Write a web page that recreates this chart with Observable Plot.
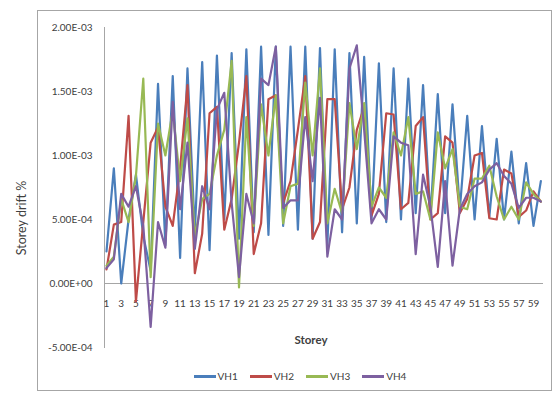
<!DOCTYPE html>
<html>
<head>
<meta charset="utf-8">
<script src="https://cdn.jsdelivr.net/npm/d3@7"></script>
<script src="https://cdn.jsdelivr.net/npm/@observablehq/plot@0.6"></script>
<style>
  html, body { margin: 0; padding: 0; background: #fff; }
  #wrap { position: relative; width: 558px; height: 397px; background: #fff; font-family: Lato, "Open Sans", sans-serif; color: #404040; overflow: hidden; }
  #border { position: absolute; left: 37px; top: 10px; width: 515px; height: 381px; border: 1px solid #a6a6a6; box-sizing: border-box; }
  #chart { position: absolute; left: 0; top: 0; }
  #ytitle { position: absolute; left: 21px; top: 218px; transform: translate(-50%, -50%) rotate(-90deg); white-space: nowrap; font-size: 12.5px; }
  #legend { position: absolute; left: 0; width: 600px; top: 370px; display: flex; justify-content: center; gap: 12px; font-size: 10px; }
  .item { display: flex; align-items: center; gap: 2px; }
  .sw { width: 22px; height: 3px; }
</style>
</head>
<body>
<div id="wrap">
  <div id="border"></div>
  <div id="chart"></div>
  <div id="ytitle">Storey drift %</div>
  <div id="legend"></div>
</div>
<script>
const storeys = [1,2,3,4,5,6,7,8,9,10,11,12,13,14,15,16,17,18,19,20,21,22,23,24,25,26,27,28,29,30,31,32,33,34,35,36,37,38,39,40,41,42,43,44,45,46,47,48,49,50,51,52,53,54,55,56,57,58,59,60];
const xTickLabels = [1,3,5,7,9,11,13,15,17,19,21,23,25,27,29,31,33,35,37,39,41,43,45,47,49,51,53,55,57,59];
const yTicks = [-5e-4, 0, 5e-4, 1e-3, 1.5e-3, 2e-3];
const seriesNames = ["VH1", "VH2", "VH3", "VH4"];
const seriesColors = ["#4A7EBB", "#BE4B48", "#98B954", "#7D60A0"];

const VH1 = [2.5e-4,9.0e-4,0.0,5.0e-4,8.5e-4,3.7e-4,1.0e-4,1.56e-3,3.0e-4,1.62e-3,
             2.0e-4,1.68e-3,4.0e-4,1.73e-3,2.6e-4,1.78e-3,5.0e-4,1.80e-3,3.5e-4,1.83e-3,
             4.0e-4,1.85e-3,3.8e-4,1.85e-3,4.5e-4,1.85e-3,4.2e-4,1.85e-3,3.5e-4,1.84e-3,
             3.0e-4,1.83e-3,4.0e-4,1.80e-3,4.7e-4,1.77e-3,5.0e-4,1.72e-3,4.8e-4,1.68e-3,
             5.0e-4,1.60e-3,5.5e-4,1.55e-3,5.2e-4,1.48e-3,5.5e-4,1.40e-3,5.8e-4,1.31e-3,
             5.0e-4,1.23e-3,5.2e-4,1.13e-3,5.0e-4,1.03e-3,4.7e-4,9.4e-4,4.5e-4,8.0e-4];
const VH2 = [1.1e-4,4.6e-4,4.8e-4,1.31e-3,-1.4e-4,4.8e-4,1.10e-3,1.22e-3,6.0e-4,4.5e-4,
             9.0e-4,1.55e-3,8.0e-5,3.9e-4,1.33e-3,1.38e-3,4.2e-4,6.6e-4,1.10e-3,1.62e-3,
             2.3e-4,4.7e-4,1.44e-3,1.47e-3,6.3e-4,8.0e-4,1.20e-3,1.62e-3,3.5e-4,4.8e-4,
             1.44e-3,1.44e-3,5.8e-4,7.5e-4,1.20e-3,1.38e-3,5.3e-4,7.0e-4,1.33e-3,1.32e-3,
             5.8e-4,6.3e-4,1.23e-3,1.30e-3,5.0e-4,5.5e-4,1.15e-3,1.10e-3,5.5e-4,6.6e-4,
             1.00e-3,1.02e-3,5.1e-4,5.0e-4,8.9e-4,8.6e-4,5.2e-4,5.7e-4,7.2e-4,6.4e-4];
const VH3 = [1.4e-4,2.1e-4,6.6e-4,4.8e-4,8.4e-4,1.60e-3,5.0e-5,1.25e-3,1.00e-3,1.35e-3,
             8.0e-4,1.29e-3,3.7e-4,6.6e-4,7.0e-4,1.00e-3,1.20e-3,1.74e-3,-3.0e-5,1.30e-3,
             4.5e-4,1.40e-3,1.00e-3,1.47e-3,4.7e-4,7.6e-4,7.8e-4,1.57e-3,1.00e-3,1.68e-3,
             4.7e-4,7.4e-4,5.5e-4,1.41e-3,1.05e-3,1.41e-3,6.0e-4,7.5e-4,6.7e-4,1.18e-3,
             1.00e-3,1.30e-3,7.0e-4,7.2e-4,5.0e-4,1.18e-3,9.0e-4,1.05e-3,6.0e-4,5.8e-4,
             8.2e-4,8.2e-4,9.2e-4,6.8e-4,5.0e-4,6.0e-4,5.0e-4,7.9e-4,7.0e-4,6.4e-4];
const VH4 = [1.2e-4,1.9e-4,7.0e-4,6.0e-4,7.6e-4,4.5e-4,-3.4e-4,4.8e-4,2.8e-4,1.42e-3,
             5.8e-4,1.10e-3,2.7e-4,7.6e-4,5.8e-4,1.36e-3,1.49e-3,6.3e-4,5.0e-5,7.0e-4,
             4.7e-4,1.60e-3,1.55e-3,1.85e-3,5.9e-4,6.5e-4,6.5e-4,1.30e-3,8.0e-4,1.45e-3,
             2.1e-4,5.8e-4,5.0e-4,1.68e-3,1.86e-3,1.20e-3,4.7e-4,5.8e-4,5.0e-4,1.15e-3,
             1.10e-3,1.08e-3,2.3e-4,8.5e-4,6.0e-4,1.3e-4,8.0e-4,1.4e-4,5.8e-4,7.0e-4,
             7.6e-4,7.9e-4,8.9e-4,9.4e-4,8.4e-4,7.8e-4,5.9e-4,6.7e-4,6.7e-4,6.4e-4];
const seriesValues = [VH1, VH2, VH3, VH4];

function sci(d) {
  if (d === 0) return "0.00E+00";
  const [m, e] = d.toExponential(2).split("e");
  const n = +e;
  return m + "E" + (n < 0 ? "-" : "+") + String(Math.abs(n)).padStart(2, "0");
}

const lineMarks = seriesValues.map((vals, k) =>
  Plot.line(storeys.map((s, i) => ({storey: s, value: vals[i]})), {
    x: "storey", y: "value", stroke: seriesColors[k], strokeWidth: 2.2,
    strokeLinejoin: "round", strokeLinecap: "round"
  })
);

const chart = Plot.plot({
  width: 558,
  height: 360,
  marginLeft: 104,
  marginRight: 15,
  marginTop: 27,
  marginBottom: 13,
  style: {fontFamily: "Lato, 'Open Sans', sans-serif", fontSize: "10px", color: "#404040", background: "transparent"},
  x: {type: "linear", domain: [0.73, 60.36], axis: null},
  y: {domain: [-5e-4, 2e-3], axis: null},
  marks: [
    Plot.frame({anchor: "left", stroke: "#a6a6a6"}),
    Plot.ruleY([0], {stroke: "#a6a6a6"}),
    Plot.axisY({ticks: yTicks, tickFormat: sci, tickSize: 0, tickPadding: 12, label: null}),
    Plot.text(xTickLabels, {x: d => d, y: () => 0, dy: 20, text: d => String(d), fill: "#404040"}),
    ...lineMarks,
    Plot.text(["Storey"], {frameAnchor: "bottom", dy: -4, dx: -13, fontWeight: "bold", fontSize: 11.5, fill: "#404040"})
  ]
});
document.getElementById("chart").appendChild(chart);

const legend = document.getElementById("legend");
seriesNames.forEach((name, k) => {
  const item = document.createElement("div");
  item.className = "item";
  const sw = document.createElement("div");
  sw.className = "sw";
  sw.style.background = seriesColors[k];
  const lab = document.createElement("span");
  lab.textContent = name;
  item.appendChild(sw);
  item.appendChild(lab);
  legend.appendChild(item);
});
</script>
</body>
</html>
